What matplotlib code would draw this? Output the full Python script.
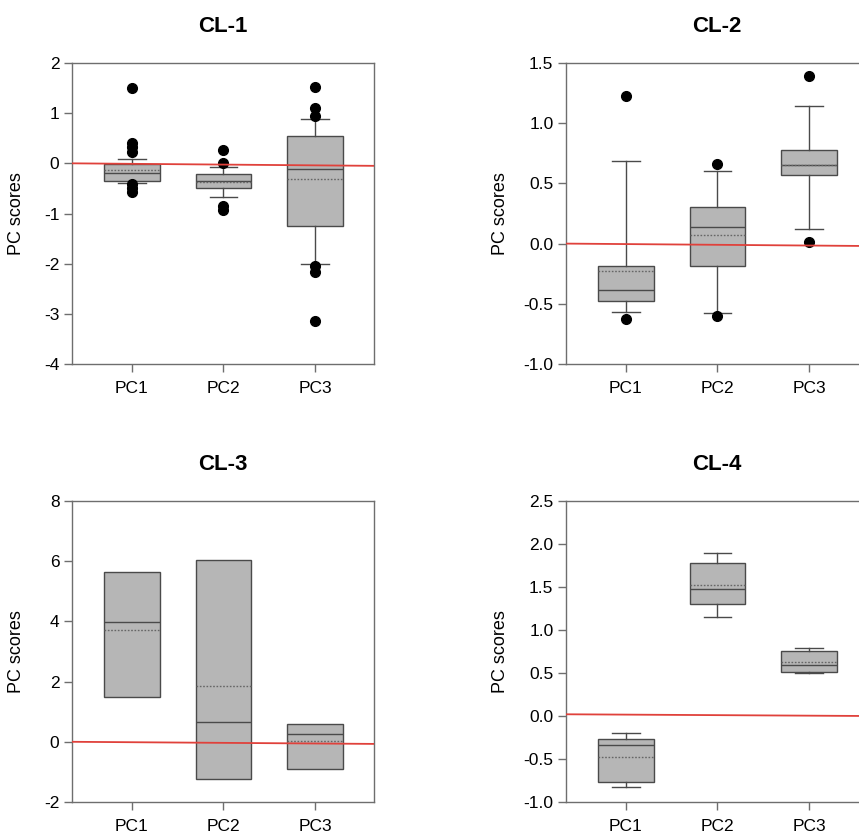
import numpy as np
import matplotlib.pyplot as plt
import matplotlib as mpl

mpl.use("Agg")

###############################################################################

components = ["PC1", "PC2", "PC3"]
panel_titles = ["CL-1", "CL-2", "CL-3", "CL-4"]

# box summaries, one list per panel (PC1, PC2, PC3)
cl1_q1 = [-0.35, -0.50, -1.24]
cl1_med = [-0.20, -0.36, -0.12]
cl1_q3 = [-0.02, -0.21, 0.55]
cl1_mean = [-0.13, -0.38, -0.32]
cl1_whislo = [-0.40, -0.68, -2.00]
cl1_whishi = [0.09, -0.07, 0.88]
cl1_fliers = [
    [1.50, 0.41, 0.33, 0.23, -0.42, -0.50, -0.58],
    [0.27, 0.00, -0.86, -0.93],
    [1.52, 1.10, 0.95, -2.05, -2.16, -3.15],
]

cl2_q1 = [-0.48, -0.185, 0.57]
cl2_med = [-0.385, 0.14, 0.65]
cl2_q3 = [-0.19, 0.30, 0.78]
cl2_mean = [-0.23, 0.07, 0.655]
cl2_whislo = [-0.565, -0.573, 0.12]
cl2_whishi = [0.69, 0.60, 1.14]
cl2_fliers = [[1.23, -0.625], [0.66, -0.60], [1.39, 0.017]]

cl3_q1 = [1.50, -1.24, -0.91]
cl3_med = [3.97, 0.67, 0.25]
cl3_q3 = [5.65, 6.04, 0.60]
cl3_mean = [3.72, 1.84, 0.01]
cl3_whislo = cl3_q1
cl3_whishi = cl3_q3
cl3_fliers = [[], [], []]

cl4_q1 = [-0.768, 1.30, 0.51]
cl4_med = [-0.338, 1.474, 0.595]
cl4_q3 = [-0.264, 1.776, 0.758]
cl4_mean = [-0.477, 1.524, 0.626]
cl4_whislo = [-0.826, 1.156, 0.498]
cl4_whishi = [-0.199, 1.892, 0.789]
cl4_fliers = [[], [], []]

# red zero reference line, value at left and right edge of each panel
ref_left = [0.0, 0.0, 0.0, 0.02]
ref_right = [-0.05, -0.02, -0.07, 0.0]

y_limits = [(-4, 2), (-1.0, 1.5), (-2, 8), (-1.0, 2.5)]
y_ticks = [
    [-4, -3, -2, -1, 0, 1, 2],
    [-1.0, -0.5, 0.0, 0.5, 1.0, 1.5],
    [-2, 0, 2, 4, 6, 8],
    [-1.0, -0.5, 0.0, 0.5, 1.0, 1.5, 2.0, 2.5],
]
tick_fmt = ["%d", "%.1f", "%d", "%.1f"]

###############################################################################

panels = [
    (cl1_q1, cl1_med, cl1_q3, cl1_mean, cl1_whislo, cl1_whishi, cl1_fliers),
    (cl2_q1, cl2_med, cl2_q3, cl2_mean, cl2_whislo, cl2_whishi, cl2_fliers),
    (cl3_q1, cl3_med, cl3_q3, cl3_mean, cl3_whislo, cl3_whishi, cl3_fliers),
    (cl4_q1, cl4_med, cl4_q3, cl4_mean, cl4_whislo, cl4_whishi, cl4_fliers),
]

plt.rcParams.update({"font.family": "Liberation Sans", "font.size": 12})

W, H = 859, 833
fig = plt.figure(figsize=(W / 100, H / 100), dpi=100)

# axes frames in pixels: left, top, width, height
frames = [
    (72, 63, 302, 301),
    (566, 63, 302, 301),
    (72, 501, 302, 301),
    (566, 501, 302, 301),
]
label_x = [-0.155, -0.19, -0.155, -0.19]

spine_color = "#6e6e6e"
line_color = "#4a4a4a"

for k in range(4):
    l, t, w, h = frames[k]
    ax = fig.add_axes([l / W, 1 - (t + h) / H, w / W, h / H])

    q1, med, q3, mean, wlo, whi, fl = panels[k]
    stats = []
    for j in range(3):
        stats.append(
            {
                "q1": q1[j],
                "med": med[j],
                "q3": q3[j],
                "mean": mean[j],
                "whislo": wlo[j],
                "whishi": whi[j],
                "fliers": np.array(fl[j]),
            }
        )

    ax.bxp(
        stats,
        positions=[1, 2, 3],
        widths=0.61,
        capwidths=0.3,
        patch_artist=True,
        showmeans=True,
        meanline=True,
        showcaps=(k != 2),
        boxprops=dict(facecolor="#b6b6b6", edgecolor=line_color, linewidth=1.0),
        medianprops=dict(color=line_color, linewidth=1.0),
        meanprops=dict(color="#666666", linestyle=(0, (1.2, 1.2)), linewidth=1.0),
        whiskerprops=dict(color=line_color, linewidth=1.0),
        capprops=dict(color=line_color, linewidth=1.0),
        flierprops=dict(
            marker="o",
            markerfacecolor="black",
            markeredgecolor="black",
            markersize=7,
        ),
    )

    x0, x1 = 0.345, 3.645
    ax.plot([x0, x1], [ref_left[k], ref_right[k]], color="#e0413b", lw=1.3, zorder=5)

    ax.set_xlim(x0, x1)
    ax.set_ylim(*y_limits[k])
    ax.set_yticks(y_ticks[k])
    ax.set_yticklabels([tick_fmt[k] % v for v in y_ticks[k]])
    ax.set_xticks([1, 2, 3])
    ax.set_xticklabels(components)

    for side in ["left", "right", "top", "bottom"]:
        ax.spines[side].set_color(spine_color)
        ax.spines[side].set_linewidth(1.0)
    ax.tick_params(
        direction="out", length=6, width=1.0, color=spine_color, labelsize=12.5, pad=3
    )
    ax.tick_params(axis="x", pad=6)

    ax.set_ylabel("PC scores", fontsize=13)
    ax.yaxis.set_label_coords(label_x[k], 0.5)
    ax.set_title(panel_titles[k], fontsize=16, weight="bold", pad=22)

plt.savefig("out.png", dpi=100)
plt.close()
